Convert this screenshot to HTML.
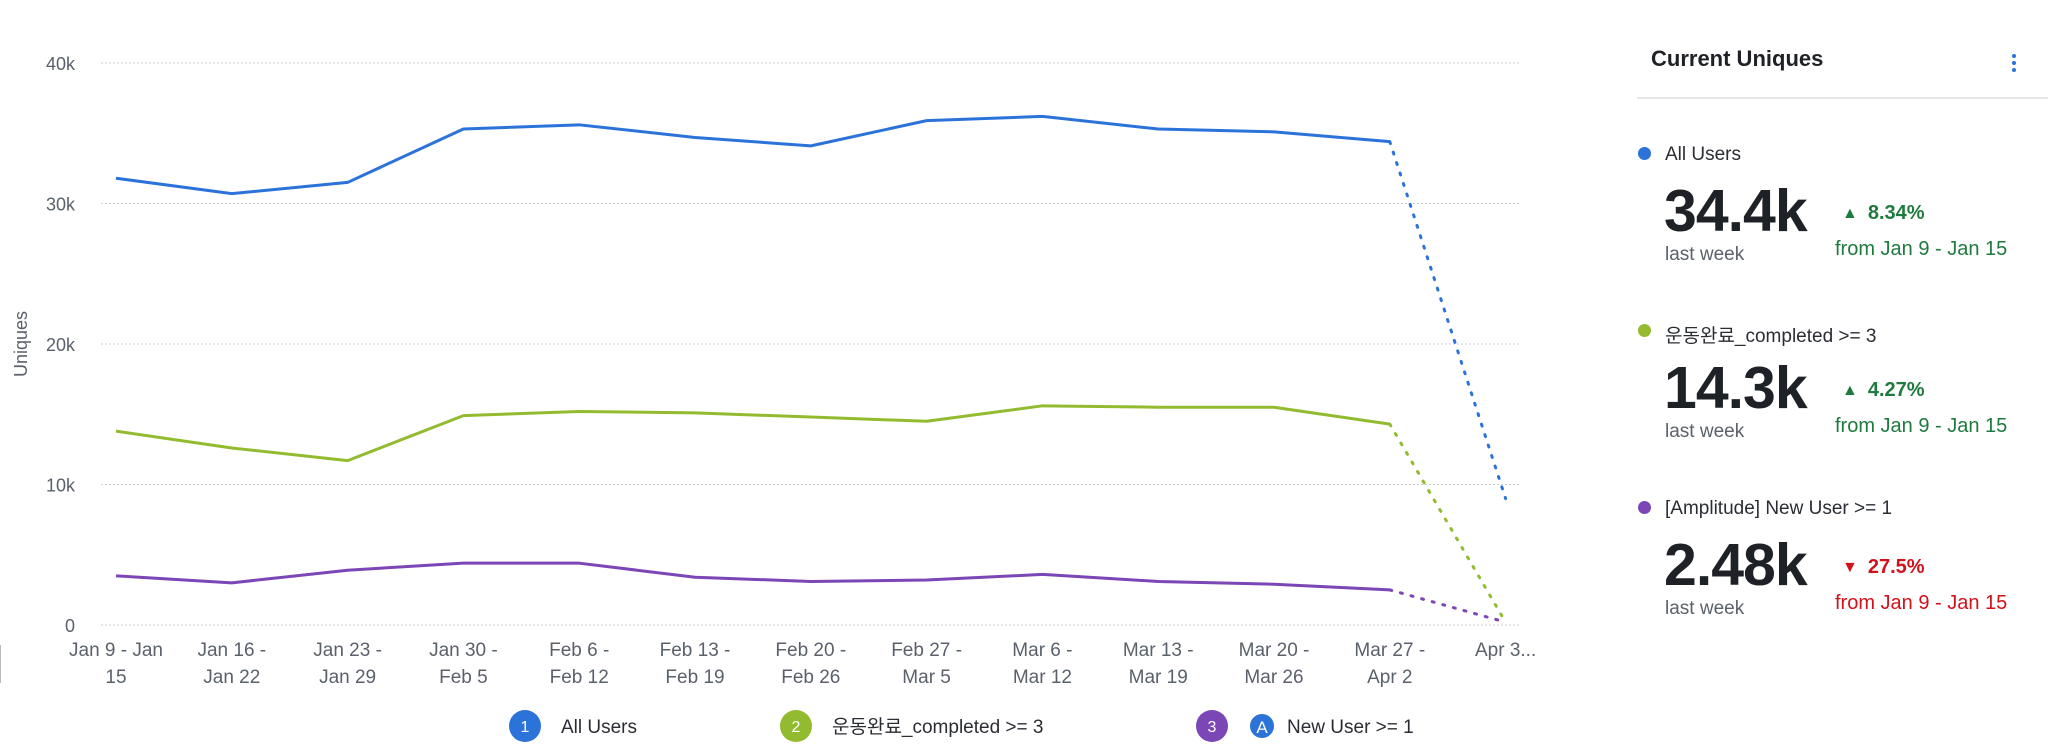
<!DOCTYPE html>
<html><head><meta charset="utf-8"><style>
body{margin:0;width:2048px;height:753px;background:#fff;overflow:hidden;font-family:"Liberation Sans","Noto Sans CJK KR",sans-serif;position:relative}
.abs{position:absolute}
.panel-title{left:1651px;top:46px;font-size:22px;font-weight:bold;color:#1e2126}
.divider{left:1637px;top:97px;width:411px;height:2px;background:#e3e5e8}
.lbl{font-size:19px;color:#2a2d33;white-space:nowrap}
.big{font-size:59px;font-weight:bold;color:#1e2126;letter-spacing:-1px}
.lw{font-size:19px;color:#5b616b}
.pct{font-size:20px;font-weight:bold}
.from{font-size:20px;white-space:nowrap}
.dot{width:13px;height:13px;border-radius:50%}
</style></head><body>
<svg id="chart" class="abs" style="left:0;top:0" width="1600" height="753"></svg>
<div class="abs panel-title">Current Uniques</div>
<div class="abs" style="left:2012px;top:54px;width:6px">
<div style="width:4px;height:4px;border-radius:50%;background:#2b73d9;margin-bottom:3px"></div>
<div style="width:4px;height:4px;border-radius:50%;background:#2b73d9;margin-bottom:3px"></div>
<div style="width:4px;height:4px;border-radius:50%;background:#2b73d9"></div></div>
<div class="abs divider"></div>
<div id="cards"></div>
<div class="abs" style="left:0;top:645px;width:1px;height:38px;background:#bbb"></div>
<script>
const categories1=["Jan 9 - Jan","Jan 16 -","Jan 23 -","Jan 30 -","Feb 6 -","Feb 13 -","Feb 20 -","Feb 27 -","Mar 6 -","Mar 13 -","Mar 20 -","Mar 27 -","Apr 3..."];
const categories2=["15","Jan 22","Jan 29","Feb 5","Feb 12","Feb 19","Feb 26","Mar 5","Mar 12","Mar 19","Mar 26","Apr 2",""];
const allUsers=[31.8,30.7,31.5,35.3,35.6,34.7,34.1,35.9,36.2,35.3,35.1,34.4,9.0];
const completed=[13.8,12.6,11.7,14.9,15.2,15.1,14.8,14.5,15.6,15.5,15.5,14.3,0.2];
const newUsers=[3.5,3.0,3.9,4.4,4.4,3.4,3.1,3.2,3.6,3.1,2.9,2.5,0.2];
const yTicks=[0,10,20,30,40];
const yTickLabels=["0","10k","20k","30k","40k"];
const NS="http://www.w3.org/2000/svg";
const svg=document.getElementById('chart');
const X=i=>116+i*115.8, Y=v=>625-v*(562/40);
function mk(t,a){const e=document.createElementNS(NS,t);for(const k in a)e.setAttribute(k,a[k]);svg.appendChild(e);return e;}
yTicks.forEach((t,i)=>{
 const g=mk('line',{x1:101,x2:1520,y1:Y(t),y2:Y(t),stroke:'#c8cbd0','stroke-dasharray':'2,2'});
 
 
 const l=mk('text',{x:75,y:Y(t)+7,'text-anchor':'end','font-size':18,fill:'#5b616b'});l.textContent=yTickLabels[i];
 
 
});
const yt=mk('text',{x:27,y:344,transform:'rotate(-90 27 344)','text-anchor':'middle','font-size':18,fill:'#5b616b'});yt.textContent='Uniques';


categories1.forEach((c,i)=>{
 const t=mk('text',{x:X(i),y:656,'text-anchor':'middle','font-size':19,fill:'#5b616b'});t.textContent=c;
 
 
 const t2=mk('text',{x:X(i),y:683,'text-anchor':'middle','font-size':19,fill:'#5b616b'});t2.textContent=categories2[i];
 
 
});
function series(vals,color,name){
 const n=vals.length;
 const pts=vals.slice(0,n-1).map((v,i)=>X(i)+','+Y(v)).join(' ');
 const p=mk('polyline',{points:pts,fill:'none',stroke:color,'stroke-width':3,'stroke-linejoin':'round'});
 
 
 const d=mk('line',{x1:X(n-2),y1:Y(vals[n-2]),x2:X(n-1),y2:Y(vals[n-1]),stroke:color,'stroke-width':3,'stroke-dasharray':'2,9','stroke-linecap':'round'});
 
 
}
series(newUsers,'#7b46b5','new-user');
series(completed,'#93bb2f','completed');
series(allUsers,'#2b73d9','all-users');
function legend(cx,color,num,label,name){
 const c=mk('circle',{cx:cx,cy:726,r:16,fill:color});
 
 
 const n=mk('text',{x:cx,y:732,'text-anchor':'middle','font-size':16,fill:'#fff'});n.textContent=num;
 const t=mk('text',{x:cx+36,y:733,'font-size':19,fill:'#2a2d33'});t.textContent=label;
 
 
 return t;
}
legend(525,'#2b73d9','1','All Users','all-users');
legend(796,'#93bb2f','2','운동완료_completed >= 3','completed');
const lt=legend(1212,'#7b46b5','3','New User >= 1','new-user');lt.setAttribute('x',1287);
const ic=mk('circle',{cx:1262,cy:726,r:12,fill:'#2b73d9'});


const it=mk('text',{x:1262,y:733,'text-anchor':'middle','font-size':17,fill:'#fff'});it.textContent='A';

const cards=[["#2b73d9","All Users","34.4k","▲","8.34%","#1f7a3f"],["#93bb2f","운동완료_completed >= 3","14.3k","▲","4.27%","#1f7a3f"],["#7b46b5","[Amplitude] New User >= 1","2.48k","▼","27.5%","#d0121b"]];
const host=document.getElementById('cards');
cards.forEach((c,i)=>{
 const top=i*177;
 host.insertAdjacentHTML('beforeend',
 `<div class="abs dot" style="left:1638px;top:${147+top}px;background:${c[0]}"></div>
 <div class="abs lbl" style="left:1665px;top:${144+top}px">${c[1]}</div>
 <div class="abs big" style="left:1664px;top:${177+top}px">${c[2]}</div>
 <div class="abs lw" style="left:1665px;top:${244+top}px">last week</div>
 <div class="abs pct" style="left:1842px;top:${202+top}px;color:${c[5]}"><span style="font-size:16px;margin-right:10px;vertical-align:1px">${c[3]}</span>${c[4]}</div>
 <div class="abs from" style="left:1835px;top:${238+top}px;color:${c[5]}">from Jan 9 - Jan 15</div>`);
});
</script>
</body></html>
